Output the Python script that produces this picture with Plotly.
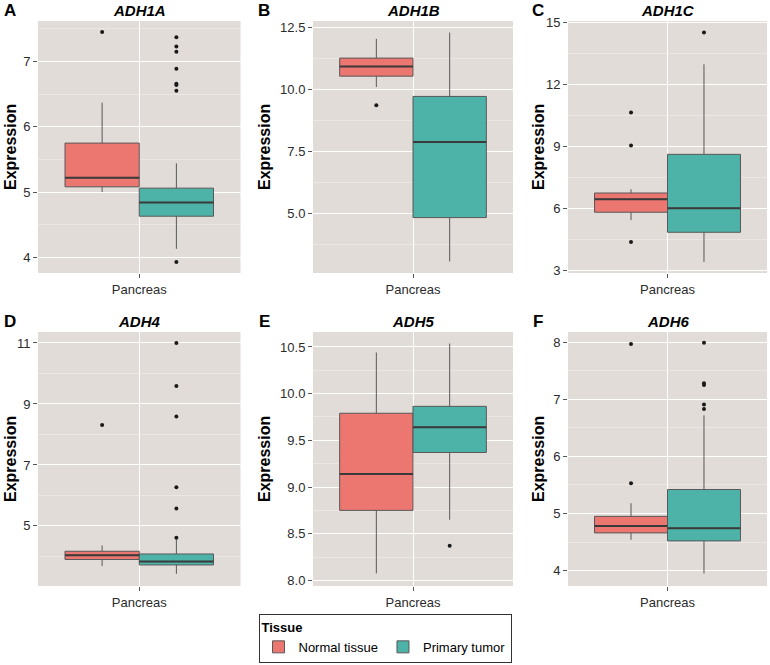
import plotly.graph_objects as go

# ---------------- data ----------------
genes = ["ADH1A", "ADH1B", "ADH1C", "ADH4", "ADH5", "ADH6"]
panel_letters = ["A", "B", "C", "D", "E", "F"]
category = "Pancreas"
groups = ["Normal tissue", "Primary tumor"]

normal_q1 = [5.08, 10.54, 5.81, 3.90, 8.75, 4.66]
normal_median = [5.22, 10.93, 6.44, 4.04, 9.14, 4.78]
normal_q3 = [5.75, 11.27, 6.74, 4.17, 9.79, 4.95]
normal_lower = [5.00, 10.10, 5.43, 3.68, 8.075, 4.54]
normal_upper = [6.37, 12.05, 6.92, 4.36, 10.44, 5.18]
normal_outliers = [[7.45], [9.36], [10.63, 9.04, 4.37], [8.31], [], [7.97, 5.53]]

tumor_q1 = [4.63, 4.82, 4.84, 3.72, 9.37, 4.52]
tumor_median = [4.84, 7.88, 6.00, 3.83, 9.64, 4.74]
tumor_q3 = [5.06, 9.72, 8.61, 4.08, 9.864, 5.42]
tumor_lower = [4.13, 3.05, 3.40, 3.43, 8.65, 3.95]
tumor_upper = [5.44, 12.30, 12.97, 4.55, 10.536, 6.72]
tumor_outliers = [[7.37, 7.23, 7.15, 6.89, 6.66, 6.64, 6.55, 3.93], [], [14.5],
                  [11.0, 9.59, 8.59, 6.27, 5.57, 4.61], [8.37],
                  [7.99, 7.28, 7.25, 6.91, 6.83]]

y_ticks = [[4, 5, 6, 7], [5, 7.5, 10, 12.5], [3, 6, 9, 12, 15], [5, 7, 9, 11],
           [8, 8.5, 9, 9.5, 10, 10.5], [4, 5, 6, 7, 8]]
y_ticklabels = [["4", "5", "6", "7"], ["5.0", "7.5", "10.0", "12.5"],
                ["3", "6", "9", "12", "15"], ["5", "7", "9", "11"],
                ["8.0", "8.5", "9.0", "9.5", "10.0", "10.5"], ["4", "5", "6", "7", "8"]]
y_ranges = [[3.76, 7.62], [2.58, 12.77], [2.87, 15.06], [3.03, 11.36],
            [7.94, 10.66], [3.73, 8.18]]

# ---------------- styling / layout ----------------
W, H = 770, 665


def px(x):
    return x / W


def py(y):
    return 1 - y / H


FONT = "Liberation Sans, Arial, sans-serif"
PANEL_BG = "#E2DCD9"
MINOR_GRID = "#ECE7E5"
FILL = {"Normal tissue": "#EC7670", "Primary tumor": "#4DB3A8"}
LINE = "#585858"
MEDIAN = "#3a3a3a"

col_left = [38, 313, 568]
col_right = [240.5, 513, 767]
row_top = [21, 332]
row_bottom = [273, 586]
ytitle_x = [10, 264, 538]
title_y = [11, 321]

BOX_W = 0.44
offsets = {"Normal tissue": -BOX_W / 2, "Primary tumor": BOX_W / 2}

fig = go.Figure()
annotations = []

for i, gene in enumerate(genes):
    r, c = divmod(i, 3)
    ax = "" if i == 0 else str(i + 1)
    xref, yref = "x" + ax, "y" + ax

    stats = {
        "Normal tissue": (normal_q1[i], normal_median[i], normal_q3[i],
                          normal_lower[i], normal_upper[i], normal_outliers[i]),
        "Primary tumor": (tumor_q1[i], tumor_median[i], tumor_q3[i],
                          tumor_lower[i], tumor_upper[i], tumor_outliers[i]),
    }
    for g in groups:
        q1, med, q3, lo, hi, outs = stats[g]
        xpos = 1 + offsets[g]
        fig.add_trace(go.Box(
            x=[xpos], q1=[q1], median=[med], q3=[q3],
            lowerfence=[lo], upperfence=[hi],
            width=BOX_W, boxpoints=False, whiskerwidth=0,
            fillcolor=FILL[g], line=dict(color=LINE, width=1),
            name=g, legendgroup=g, showlegend=(i == 0),
            xaxis=xref, yaxis=yref, hoverinfo="skip",
        ))
        # thicker median bar, as in ggplot
        fig.add_trace(go.Scatter(
            x=[xpos - BOX_W / 2, xpos + BOX_W / 2], y=[med, med], mode="lines",
            line=dict(color=MEDIAN, width=2), showlegend=False,
            xaxis=xref, yaxis=yref, hoverinfo="skip",
        ))
        if outs:
            fig.add_trace(go.Scatter(
                x=[xpos] * len(outs), y=outs, mode="markers",
                marker=dict(color="#1a1a1a", size=4),
                showlegend=False, xaxis=xref, yaxis=yref, hoverinfo="skip",
            ))

    ticks = y_ticks[i]
    step = ticks[1] - ticks[0]
    lo_r, hi_r = y_ranges[i]
    minor_vals = [ticks[0] - step / 2] + [t + step / 2 for t in ticks]
    minor_vals = [v for v in minor_vals if lo_r < v < hi_r]

    fig.layout["xaxis" + ax] = dict(
        domain=[px(col_left[c]), px(col_right[c])], anchor=yref,
        range=[0.4, 1.6], tickvals=[1], ticktext=[category],
        showgrid=True, gridcolor="white", gridwidth=1.1,
        zeroline=False, showline=False,
        ticks="outside", ticklen=4, tickcolor="#555555", tickwidth=1,
        tickfont=dict(family=FONT, size=13, color="#2b2b2b"),
        automargin=False, fixedrange=True,
    )
    fig.layout["yaxis" + ax] = dict(
        domain=[py(row_bottom[r]), py(row_top[r])], anchor=xref,
        range=y_ranges[i], tickvals=ticks, ticktext=y_ticklabels[i],
        showgrid=True, gridcolor="white", gridwidth=1.1,
        minor=dict(tickvals=minor_vals, showgrid=True, gridcolor=MINOR_GRID,
                   gridwidth=0.6, ticks=""),
        zeroline=False, showline=False,
        ticks="outside", ticklen=4, tickcolor="#555555", tickwidth=1,
        tickfont=dict(family=FONT, size=13, color="#2b2b2b"),
        automargin=False, fixedrange=True,
    )

    cx = (col_left[c] + col_right[c]) / 2
    annotations.append(dict(
        text="<b><i>%s</i></b>" % gene, x=px(cx), y=py(title_y[r]),
        xref="paper", yref="paper", xanchor="center", yanchor="middle",
        showarrow=False, font=dict(family=FONT, size=15, color="black"),
    ))
    annotations.append(dict(
        text="<b>%s</b>" % panel_letters[i], x=px(ytitle_x[c]), y=py(title_y[r]),
        xref="paper", yref="paper", xanchor="center", yanchor="middle",
        showarrow=False, font=dict(family=FONT, size=17, color="black"),
    ))
    annotations.append(dict(
        text="<b>Expression</b>", x=px(ytitle_x[c]),
        y=py((row_top[r] + row_bottom[r]) / 2),
        xref="paper", yref="paper", xanchor="center", yanchor="middle",
        textangle=-90, showarrow=False,
        font=dict(family=FONT, size=16, color="black"),
    ))

fig.update_layout(
    width=W, height=H,
    margin=dict(l=0, r=0, t=0, b=0),
    paper_bgcolor="white", plot_bgcolor=PANEL_BG,
    annotations=annotations,
    showlegend=True,
    hovermode=False,
    legend=dict(
        title=dict(text="<b>Tissue</b>", side="top",
                   font=dict(family=FONT, size=13, color="black")),
        orientation="h", x=px(385), y=py(663),
        xanchor="center", yanchor="bottom",
        bordercolor="#333333", borderwidth=1, bgcolor="white",
        font=dict(family=FONT, size=13, color="black"),
        itemwidth=30, tracegroupgap=0,
    ),
)

# remove the browser's default 8px page margin so the figure fills the window
fig.write_html("out.html", config={"displayModeBar": False},
               post_script="document.body.style.margin='0';")
